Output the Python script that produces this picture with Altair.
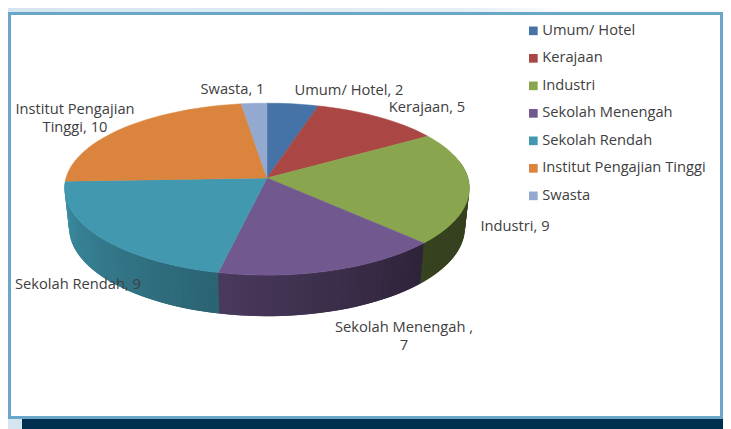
import math
import altair as alt
import numpy as np

# --- data
names = ["Umum/ Hotel", "Kerajaan", "Industri", "Sekolah Menengah",
         "Sekolah Rendah", "Institut Pengajian Tinggi", "Swasta"]
values = [2, 5, 9, 7, 9, 10, 1]
colors = ["#4572A7", "#AA4643", "#89A54E", "#71588F", "#4198AF", "#DB843D", "#93A9CF"]
label_lines = [["Umum/ Hotel, 2"], ["Kerajaan, 5"], ["Industri, 9"],
               ["Sekolah Menengah ,", "7"], ["Sekolah Rendah, 9"],
               ["Institut Pengajian", "Tinggi, 10"], ["Swasta, 1"]]

# --- layout (page pixels; the chart starts 8px in)
W, H = 715, 421
OFF = 8
CX, CY, RX, RY = 267, 178, 201, 86
PERSP_X, PERSP_Y = 0.12, 0.13
DEPTH, BOTTOM_X = 41, 0.978
label_pos = [(349, 91), (427, 108), (515, 227), (404, 328), (78, 285), (75, 110), (232.5, 90)]
FONT = "Open Sans"
FONT_SIZE = 14.7
TEXT = "#404040"


def top_pt(t):
    s, c = math.sin(t), math.cos(t)
    return [CX + RX * s * (1 - PERSP_X * c), CY - RY * c * (1 - PERSP_Y * c)]


def bot_pt(t):
    x, y = top_pt(t)
    return [CX + (x - CX) * BOTTOM_X, y + DEPTH - 3 * (1 + math.cos(t)) / 2 * 1.0]


def shade(hex_color, f):
    r, g, b = (int(hex_color[i:i + 2], 16) for i in (1, 3, 5))
    return "#%02x%02x%02x" % (round(r * f), round(g * f), round(b * f))


cum = np.cumsum([0] + values) / sum(values) * 2 * math.pi
STEP = math.radians(2)
WALL_FROM, WALL_TO = math.radians(78), math.radians(267.9)

top_features, wall_features = [], []
for i, name in enumerate(names):
    a, b = float(cum[i]), float(cum[i + 1])
    n = max(2, int((b - a) / STEP))
    ring = [top_pt(float(t)) for t in np.linspace(a, b, n + 1)]
    top_features.append({
        "type": "Feature",
        "geometry": {"type": "Polygon", "coordinates": [[[CX, CY]] + ring + [[CX, CY]]]},
        "properties": {"name": name, "edge": colors[i]},
    })

    lo, hi = max(a, WALL_FROM), min(b, WALL_TO)
    if hi > lo:
        m = max(1, int((hi - lo) / STEP))
        ts = [float(t) for t in np.linspace(lo, hi, m + 1)]
        for k, (t0, t1) in enumerate(zip(ts[:-1], ts[1:])):
            deg = math.degrees((t0 + t1) / 2)
            f = float(np.interp(deg, [90, 134, 192, 270], [0.38, 0.40, 0.65, 0.95]))
            # each strip runs under the next one, so no seam shows
            t_end = ts[k + 2] if k + 2 < len(ts) else t1
            if k + 2 >= len(ts) and i + 1 < len(names) and t1 < WALL_TO - 1e-6:
                t_end = t1 + STEP
            wall_features.append({
                "type": "Feature",
                "geometry": {"type": "Polygon", "coordinates": [[
                    top_pt(t0), top_pt(t_end), bot_pt(t_end), bot_pt(t0), top_pt(t0)]]},
                "properties": {"c": shade(colors[i], f)},
            })

proj = dict(type="identity", scale=1, translate=[-OFF, -OFF])
one = alt.Data(values=[{}])


def box(color, x, x2, y, y2, **kw):
    return alt.Chart(one).mark_rect(color=color, **kw).encode(
        x=alt.value(x - OFF), x2=alt.value(x2 - OFF), y=alt.value(y - OFF), y2=alt.value(y2 - OFF))


NAVY = "#00304F"
band = alt.Chart(one).mark_rect(
    color=alt.LinearGradient(gradient="linear", x1=0, x2=1, y1=0, y2=0,
                             stops=[alt.GradientStop(color="#d5e5ef", offset=0),
                                    alt.GradientStop(color="#e6eff5", offset=0.65),
                                    alt.GradientStop(color="#ffffff", offset=0.78),
                                    alt.GradientStop(color="#ffffff", offset=1)])
).encode(x=alt.value(0), x2=alt.value(W), y=alt.value(0), y2=alt.value(5))

decor = [
    band,
    box("#d5e5ef", 8, 22, 415, 429),
    box(NAVY, 22, 723, 415, 429),
    box("#ffffff", 9.5, 721.5, 13.5, 417.5, stroke="#69a6c8", strokeWidth=3),
]

walls = alt.Chart(alt.Data(values=wall_features)).mark_geoshape(strokeWidth=0).encode(
    fill=alt.Fill("properties.c:N", scale=None),
).project(**proj)

tops = alt.Chart(alt.Data(values=top_features)).mark_geoshape(strokeWidth=0.5).encode(
    color=alt.Color(
        "properties.name:N",
        scale=alt.Scale(domain=names, range=colors),
        legend=alt.Legend(
            title=None, orient="none", legendX=518, legendY=15.5,
            symbolType="square", symbolSize=75, symbolStrokeWidth=0,
            labelFont=FONT, labelFontSize=FONT_SIZE, labelColor=TEXT, labelLimit=260,
            labelOffset=1.5, rowPadding=11.5, padding=0,
        ),
    ),
    stroke=alt.Stroke("properties.edge:N", scale=None),
).project(**proj)

texts = []
for lines, (x, y) in zip(label_lines, label_pos):
    texts.append(
        alt.Chart(one).mark_text(
            text=lines if len(lines) > 1 else lines[0], font=FONT, fontSize=FONT_SIZE,
            color=TEXT, align="center", baseline="middle", lineHeight=18,
        ).encode(x=alt.value(x - OFF), y=alt.value(y - OFF))
    )

chart = alt.layer(*decor, walls, tops, *texts).properties(
    width=W, height=H, padding=0, background="transparent",
    autosize=alt.AutoSizeParams(type="none"),
).configure_view(stroke=None)

chart.save("out.html", embed_options={"renderer": "svg", "actions": False})
